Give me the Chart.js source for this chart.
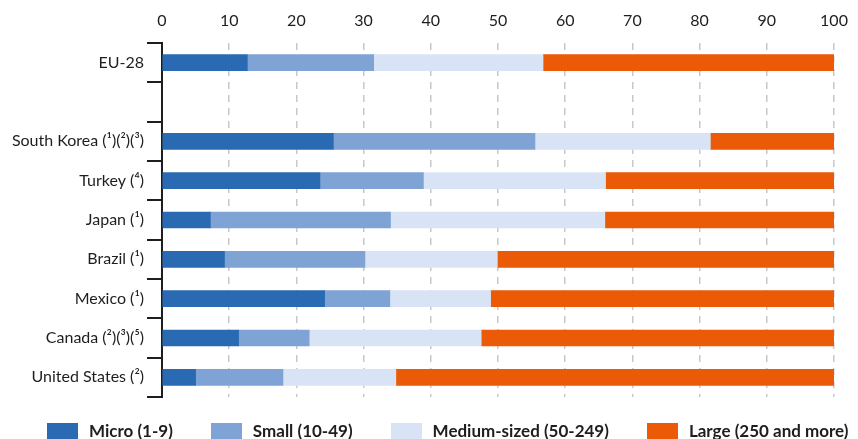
<!DOCTYPE html>
<html>
<head>
<meta charset="utf-8">
<title>Enterprises by size class</title>
<script src="https://cdn.jsdelivr.net/npm/chart.js@4/dist/chart.umd.min.js"></script>
<style>
    html, body { margin: 0; padding: 0; background: #fff; overflow: hidden; }
    #wrap { position: relative; width: 858px; height: 439px; }
    #legend {
        position: absolute; left: 47px; top: 423px;
        display: flex; gap: 38px; margin: 0; padding: 0; list-style: none;
        font: bold 17px Lato, sans-serif; line-height: 16px; color: #1e1e1e;
    }
    #legend li { display: flex; align-items: center; white-space: nowrap; }
    #legend span.box { display: inline-block; width: 31px; height: 16px; margin-right: 11px; }
</style>
</head>
<body>
<div id="wrap">
    <canvas id="sizeChart" width="858" height="439"></canvas>
    <ul id="legend"></ul>
</div>
<script>
"use strict";

const categories = ["EU-28", "", "South Korea (¹)(²)(³)", "Turkey (⁴)", "Japan (¹)",
    "Brazil (¹)", "Mexico (¹)", "Canada (²)(³)(⁵)", "United States (²)"];

const seriesNames = ["Micro (1-9)", "Small (10-49)", "Medium-sized (50-249)", "Large (250 and more)"];

const micro  = [12.7, null, 25.5, 23.5,  7.2,  9.3, 24.2, 11.4,  5.0];
const small  = [18.8, null, 30.0, 15.4, 26.8, 20.9,  9.7, 10.5, 13.0];
const medium = [25.2, null, 26.1, 27.1, 31.9, 19.7, 15.0, 25.6, 16.8];
const large  = [43.3, null, 18.4, 34.0, 34.1, 50.1, 51.1, 52.5, 65.2];

const xTicks = [0, 10, 20, 30, 40, 50, 60, 70, 80, 90, 100];

const colours = ["#296ab2", "#7fa3d5", "#d8e4f5", "#ea5a07"];
const labelFont = { family: "Lato, sans-serif", size: 16 };

function buildLegend(chart)
{
    const list = document.getElementById("legend");
    list.innerHTML = "";

    chart.data.datasets.forEach(ds => {
        const item = document.createElement("li");
        const box = document.createElement("span");
        box.className = "box";
        box.style.background = ds.backgroundColor;
        item.appendChild(box);
        item.appendChild(document.createTextNode(ds.label));
        list.appendChild(item);
    });
}

const datasets = [micro, small, medium, large].map((values, i) => ({
    label: seriesNames[i],
    data: values,
    backgroundColor: colours[i],
    borderWidth: 0,
    barThickness: 16
}));

const chart = new Chart("sizeChart", {
    type: "bar",
    data: { labels: categories, datasets: datasets },
    options: {
        indexAxis: "y",
        responsive: false,
        animation: false,
        layout: { padding: { left: 0, right: 24, top: 0, bottom: 42 } },
        plugins: {
            legend: { display: false },
            tooltip: { enabled: false }
        },
        scales: {
            x: {
                position: "top",
                stacked: true,
                min: 0,
                max: 100,
                afterFit: scale => {
                    scale.height = 43;
                    scale.paddingLeft = 0;
                    scale.paddingRight = 0;
                },
                afterBuildTicks: scale => { scale.ticks = xTicks.map(v => ({ value: v })); },
                border: { display: false, dash: [7, 6] },
                grid: { drawTicks: false, color: "#c8c8c8", lineWidth: 1.5 },
                ticks: { padding: 13, font: labelFont, color: "#1e1e1e" }
            },
            y: {
                stacked: true,
                afterFit: scale => { scale.width = 162; },
                border: { display: true, color: "#1e1e1e", width: 2 },
                grid: {
                    offset: true,
                    drawOnChartArea: false,
                    tickLength: 15,
                    color: "#1e1e1e",
                    lineWidth: 2
                },
                ticks: { padding: 3, font: labelFont, color: "#1e1e1e" }
            }
        }
    }
});

buildLegend(chart);
</script>
</body>
</html>
